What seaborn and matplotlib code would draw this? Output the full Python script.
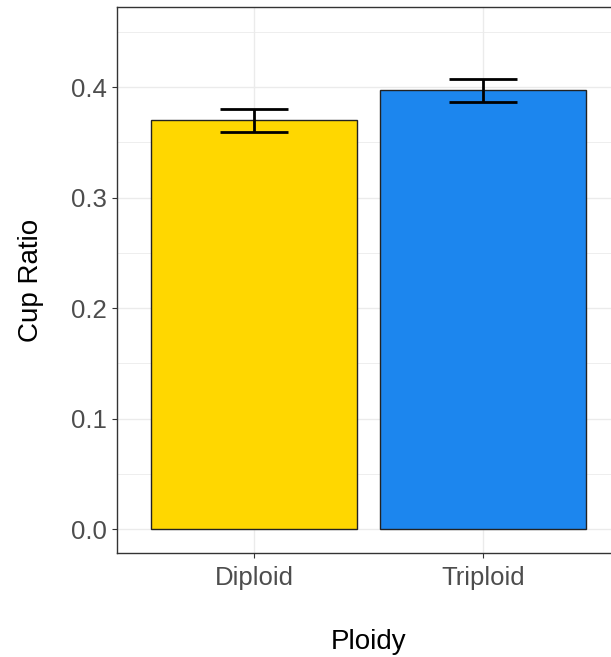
import matplotlib
matplotlib.use("Agg")
import matplotlib.pyplot as plt
import seaborn as sns
import pandas as pd
from matplotlib.ticker import MultipleLocator

ploidy = ["Diploid", "Triploid"]
cup_ratio = [0.370, 0.397]
se = [0.0105, 0.0102]
colors = ["#FFD700", "#1C86EE"]
yticks = [0.0, 0.1, 0.2, 0.3, 0.4]

sns.set_theme(style="white")
plt.rcParams["font.family"] = ["Liberation Sans", "DejaVu Sans"]

df = pd.DataFrame({"Ploidy": ploidy, "Cup Ratio": cup_ratio})

W, H = 611, 657
fig = plt.figure(figsize=(W / 100, H / 100), dpi=100)
left, right, top, bottom = 117, 620, 7, 553
ax = fig.add_axes([left / W, (H - bottom) / H, (right - left) / W, (bottom - top) / H])

sns.barplot(data=df, x="Ploidy", y="Cup Ratio", hue="Ploidy", palette=colors,
            saturation=1, width=0.9, edgecolor="#222222", linewidth=1.0, ax=ax,
            legend=False, errorbar=None, zorder=3)
ax.errorbar(x=range(len(ploidy)), y=cup_ratio, yerr=se, fmt="none",
            ecolor="black", elinewidth=2.0, capsize=24.5, capthick=2.0, zorder=4)

ax.set_xlim(-0.6, 1.6)
ax.set_ylim(-0.0217, 0.4724)
ax.set_yticks(yticks)
ax.set_yticklabels([f"{v:.1f}" for v in yticks])
ax.yaxis.set_minor_locator(MultipleLocator(0.05))

ax.grid(True, which="major", color="#EBEBEB", linewidth=1.0, zorder=0)
ax.grid(True, which="minor", axis="y", color="#EBEBEB", linewidth=0.6, zorder=0)
ax.set_axisbelow(True)
for s in ax.spines.values():
    s.set_color("#333333")
    s.set_linewidth(1.0)

ax.tick_params(axis="both", which="major", length=3.5, width=0.8, color="#333333",
               labelsize=18.5, labelcolor="#4D4D4D", pad=4, left=True, bottom=True)
ax.tick_params(axis="x", which="major", pad=6)
ax.tick_params(axis="y", which="minor", length=0)

ax.set_xlabel("Ploidy", fontsize=20, color="black", labelpad=28)
ax.set_ylabel("Cup Ratio", fontsize=20, color="black", labelpad=19)

fig.savefig("out.png", dpi=100)
